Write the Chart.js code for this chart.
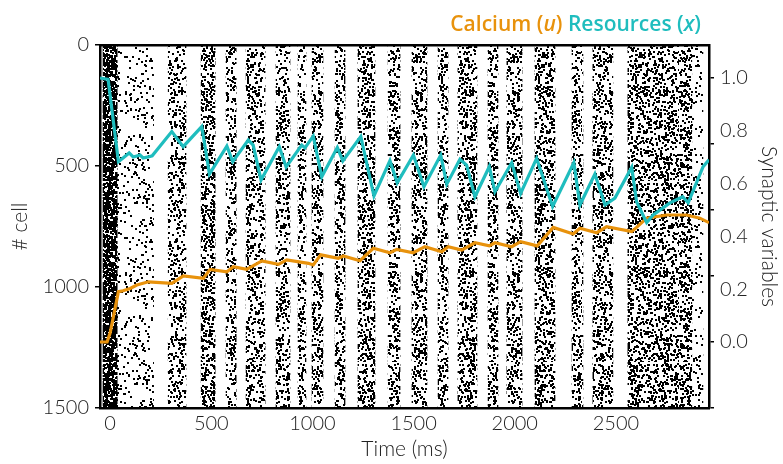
<!DOCTYPE html>
<html>
<head>
<meta charset="utf-8">
<script src="https://cdn.jsdelivr.net/npm/chart.js@4.4.1/dist/chart.umd.min.js"></script>
<style>
  body { margin: 0; background: #fff; }
</style>
</head>
<body>
<canvas id="chart" width="783" height="464"></canvas>
<script>
// ---- data ----
// resources x(t)
const resTime = [-50, -10, 41, 64, 94, 114, 148, 163, 188, 208, 305, 361, 453, 491, 577, 606, 683, 707, 746, 836,
  870, 947, 963, 1004, 1046, 1123, 1150, 1239, 1304, 1383, 1419, 1499, 1551, 1634, 1664, 1729, 1762, 1803, 1874, 1902,
  1985, 2029, 2108, 2187, 2292, 2322, 2396, 2446, 2495, 2578, 2602, 2652, 2684, 2767, 2830, 2857, 2931, 2960];
const resValue = [1.00, 0.995, 0.683, 0.697, 0.716, 0.701, 0.708, 0.697, 0.701, 0.705, 0.797, 0.740, 0.816, 0.636, 0.742, 0.683, 0.765, 0.746, 0.614, 0.740,
  0.663, 0.746, 0.735, 0.780, 0.626, 0.737, 0.686, 0.778, 0.553, 0.687, 0.603, 0.708, 0.588, 0.708, 0.598, 0.692, 0.670, 0.550, 0.664, 0.569,
  0.679, 0.563, 0.696, 0.513, 0.679, 0.519, 0.636, 0.519, 0.545, 0.662, 0.531, 0.452, 0.481, 0.527, 0.550, 0.527, 0.664, 0.69];

// calcium u(t)
const calTime = [-50, -15, 0, 41, 64, 99, 132, 189, 305, 362, 461, 494, 577, 609, 675, 750, 832, 873, 980, 1004,
  1041, 1128, 1153, 1235, 1301, 1383, 1417, 1498, 1556, 1639, 1671, 1738, 1803, 1874, 1902, 1985, 2029, 2111, 2190, 2289,
  2322, 2405, 2454, 2578, 2602, 2652, 2750, 2849, 2915, 2960];
const calValue = [0.0, 0.0, 0.034, 0.191, 0.194, 0.203, 0.216, 0.228, 0.222, 0.250, 0.241, 0.275, 0.266, 0.285, 0.275, 0.307, 0.294, 0.311, 0.298, 0.292,
  0.330, 0.317, 0.326, 0.308, 0.355, 0.338, 0.351, 0.338, 0.361, 0.342, 0.361, 0.348, 0.376, 0.364, 0.376, 0.361, 0.380, 0.364, 0.434, 0.409,
  0.431, 0.414, 0.437, 0.418, 0.434, 0.469, 0.481, 0.481, 0.469, 0.452];

// population bursts in the raster (ms) and how dense the spikes are
const burstStart = [-35, 35, 287, 450, 573, 672, 820, 929, 998, 1112, 1225, 1374, 1492, 1621, 1719, 1868, 1961, 2100, 2283, 2386, 2559, 2875];
const burstEnd = [35, 215, 375, 519, 623, 766, 889, 968, 1052, 1161, 1309, 1433, 1566, 1670, 1813, 1917, 2036, 2199, 2337, 2485, 2875, 2930];
const burstDensity = [1.6, 0.14, 0.36, 0.55, 0.4, 0.42, 0.4, 0.34, 0.48, 0.4, 0.52, 0.4, 0.48, 0.4, 0.48, 0.4, 0.48, 0.52, 0.48, 0.45, 0.5, 0.14];

const timeTicks = [0, 500, 1000, 1500, 2000, 2500];
const cellTicks = [0, 500, 1000, 1500];
const synLabels = [0.0, 0.2, 0.4, 0.6, 0.8, 1.0];
const synMarks = [-0.25, 0.0, 0.25, 0.5, 0.75, 1.0];

const orange = '#e8920c';
const teal = '#1fbdbe';
const ink = '#222';
const tickFont = { family: 'Lato', size: 20, weight: '300' };
const titleFont = { family: 'Lato', size: 21, weight: '300' };

const canvas = document.getElementById('chart');
const ctx = canvas.getContext('2d');

// spike texture used to fill each burst (fixed seed, so the look never changes)
function spikeTexture(density) {
  const tile = document.createElement('canvas');
  tile.width = 97;
  tile.height = 181;
  const g = tile.getContext('2d');
  g.fillStyle = '#000';
  let a = 20240611;
  const next = () => {
    a = (a + 0x6D2B79F5) | 0;
    let t = Math.imul(a ^ (a >>> 15), 1 | a);
    t = (t + Math.imul(t ^ (t >>> 7), 61 | t)) ^ t;
    return ((t ^ (t >>> 14)) >>> 0) / 4294967296;
  };
  const n = Math.round(density * tile.width * tile.height / 4);
  for (let i = 0; i < n; i++) {
    const px = Math.floor(next() * tile.width);
    const py = Math.floor(next() * tile.height);
    g.fillRect(px, py, 2, 2);
  }
  return ctx.createPattern(tile, 'repeat');
}

const setTicks = (values) => (scale) => {
  scale.ticks = values.map(v => ({ value: v }));
};

const legendTitle = {
  id: 'legendTitle',
  afterDraw(chart) {
    const c = chart.ctx;
    const parts = [
      ['Calcium (', orange, ''], ['u', orange, 'italic '], [') ', orange, ''],
      ['Resources (', teal, ''], ['x', teal, 'italic '], [')', teal, '']
    ];
    const fontFor = (st) => st + '600 21px "Open Sans"';
    let total = 0;
    parts.forEach(p => { c.font = fontFor(p[2]); total += c.measureText(p[0]).width; });
    let x = chart.chartArea.right - 8 - total;
    c.save();
    c.textBaseline = 'middle';
    parts.forEach(p => {
      c.font = fontFor(p[2]);
      c.fillStyle = p[1];
      c.fillText(p[0], x, 25);
      x += c.measureText(p[0]).width;
    });
    c.restore();
  }
};

new Chart(ctx, {
  type: 'line',
  data: {
    datasets: [
      {
        type: 'line',
        label: 'Resources (x)',
        data: resTime.map((t, i) => ({ x: t, y: resValue[i] })),
        borderColor: teal,
        borderWidth: 3.2,
        pointRadius: 0,
        tension: 0,
        xAxisID: 'x',
        yAxisID: 'ySyn',
        order: 1
      },
      {
        type: 'line',
        label: 'Calcium (u)',
        data: calTime.map((t, i) => ({ x: t, y: calValue[i] })),
        borderColor: orange,
        borderWidth: 3.2,
        pointRadius: 0,
        tension: 0,
        xAxisID: 'x',
        yAxisID: 'ySyn',
        order: 2
      },
      {
        type: 'bar',
        label: 'spikes',
        indexAxis: 'y',
        data: burstStart.map((s, i) => ({ x: [s, burstEnd[i]], y: 'cells' })),
        backgroundColor: burstDensity.map(d => spikeTexture(d)),
        borderWidth: 0,
        grouped: false,
        categoryPercentage: 1,
        barPercentage: 1,
        xAxisID: 'x',
        yAxisID: 'yBand',
        order: 3
      }
    ]
  },
  options: {
    responsive: false,
    animation: false,
    devicePixelRatio: 1,
    layout: { padding: { top: 45, left: 0, right: 0, bottom: 0 } },
    plugins: { legend: { display: false }, tooltip: { enabled: false } },
    scales: {
      x: {
        type: 'linear',
        position: 'bottom',
        min: -50,
        max: 2960,
        afterBuildTicks: setTicks(timeTicks),
        afterFit: (s) => { s.height = 56; },
        ticks: { font: tickFont, color: ink, padding: 4, callback: (v) => String(v) },
        grid: { drawOnChartArea: false, drawTicks: false },
        border: { color: '#000', width: 2.5 },
        title: { display: true, text: 'Time (ms)', font: titleFont, color: ink, padding: { top: 0, bottom: 2 } }
      },
      xTop: {
        type: 'linear',
        position: 'top',
        min: -50,
        max: 2960,
        afterFit: (s) => { s.height = 0; },
        ticks: { display: false },
        grid: { drawOnChartArea: false, drawTicks: false },
        border: { color: '#000', width: 2.5 }
      },
      y: {
        type: 'linear',
        position: 'left',
        reverse: true,
        min: 0,
        max: 1500,
        afterBuildTicks: setTicks(cellTicks),
        afterFit: (s) => { s.width = 100; },
        ticks: { font: tickFont, color: ink, padding: 6, callback: (v) => String(v) },
        grid: { drawOnChartArea: false, tickLength: 5, color: '#000', lineWidth: 1.5 },
        border: { color: '#000', width: 2.5 },
        title: { display: true, text: '# cell', font: titleFont, color: ink, padding: { top: 8, bottom: 0 } }
      },
      yBand: {
        type: 'category',
        labels: ['cells'],
        display: false,
        offset: true
      },
      yMarks: {
        type: 'linear',
        position: 'right',
        weight: 0,
        min: -0.25,
        max: 1.125,
        afterBuildTicks: setTicks(synMarks),
        afterFit: (s) => { s.width = 5; },
        ticks: { display: false },
        grid: { drawOnChartArea: false, tickLength: 5, color: '#000', lineWidth: 1.5 },
        border: { color: '#000', width: 2.5 }
      },
      ySyn: {
        type: 'linear',
        position: 'right',
        weight: 1,
        min: -0.25,
        max: 1.125,
        afterBuildTicks: setTicks(synLabels),
        afterFit: (s) => { s.width = 69; },
        ticks: { font: tickFont, color: ink, padding: 6, callback: (v) => v.toFixed(1) },
        grid: { display: false, drawTicks: false },
        border: { display: false },
        title: { display: true, text: 'Synaptic variables', font: titleFont, color: ink, padding: { top: 2, bottom: 0 } }
      }
    }
  },
  plugins: [legendTitle]
});
</script>
</body>
</html>
